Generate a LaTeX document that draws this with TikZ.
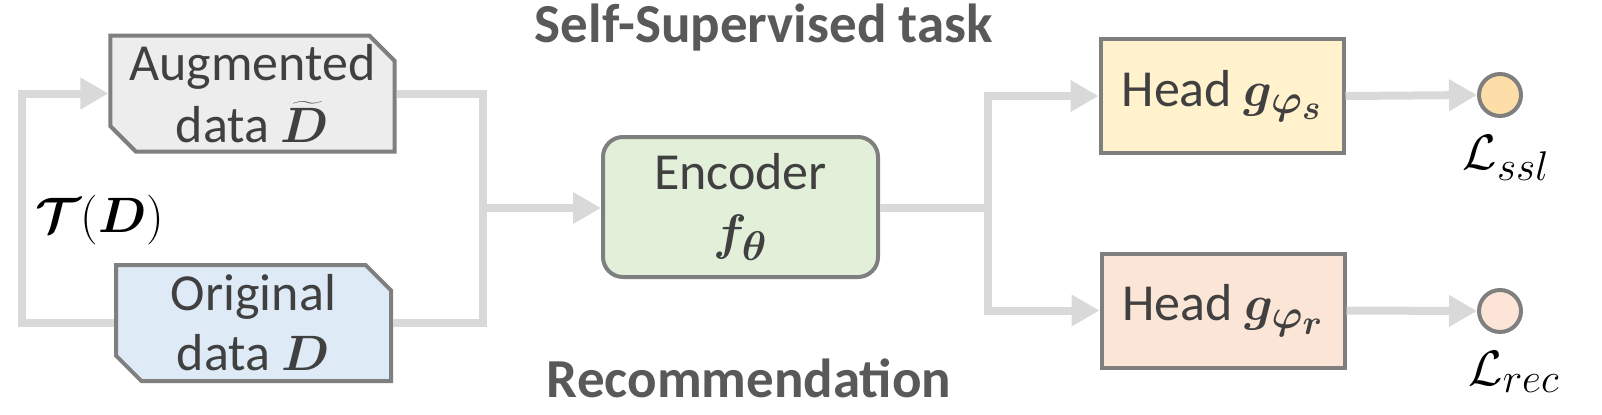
\documentclass[tikz,border=0pt]{standalone}
\usepackage{bm}
\usepackage{fontspec}
\setmainfont{Carlito}
\usepackage{tikz}
\usetikzlibrary{
  arrows.meta,
  shapes.misc,
}
\DeclareMathSizes{29}{29}{21}{16}
\definecolor{boxline}{RGB}{127, 127, 127}
\definecolor{flowgray}{RGB}{217, 217, 217}
\definecolor{darktext}{RGB}{64, 64, 64}
\definecolor{titletext}{RGB}{89, 89, 89}
\definecolor{augfill}{RGB}{237, 237, 237}
\definecolor{origfill}{RGB}{222, 235, 247}
\definecolor{encfill}{RGB}{226, 240, 217}
\definecolor{sslfill}{RGB}{255, 242, 204}
\definecolor{recfill}{RGB}{251, 229, 214}
\definecolor{sslloss}{RGB}{253, 222, 168}
\definecolor{recloss}{RGB}{252, 228, 214}
\newcommand{\bigtext}{\fontsize{26}{27}\selectfont}
\newcommand{\titletext}{\fontsize{27.5}{29}\selectfont\bfseries}
\newcommand{\bigmath}[1]{{\fontsize{29}{30}\selectfont$#1$}}
\tikzstyle{flow} = [
  line width=4pt,
  flowgray,
]
\tikzstyle{arrow} = [
  flow,
  -{Triangle[length=14pt,width=15pt]},
]
\tikzstyle{databox} = [
  chamfered rectangle,
  chamfered rectangle corners={north east, south west},
  chamfered rectangle xsep=9.5pt,
  draw=boxline,
  line width=2pt,
  minimum width=137.5pt,
  minimum height=58pt,
  inner sep=0pt,
  align=center,
  text=darktext,
  font=\bigtext,
]
\tikzstyle{headbox} = [
  rectangle,
  draw=boxline,
  line width=2pt,
  minimum width=121.5pt,
  minimum height=57pt,
  inner sep=0pt,
  text=darktext,
  font=\bigtext,
]
\tikzstyle{loss} = [
  circle,
  draw=boxline,
  line width=2pt,
  minimum size=21pt,
  inner sep=0pt,
]

\begin{document}
\begin{tikzpicture}[x=0.5pt, y=-0.5pt]

        \useasboundingbox (0,0) rectangle (1602,414);

        \node [font=\titletext, text=titletext] (ssltitle) at (764, 28) {Self-Supervised task};

        \node [font=\titletext, text=titletext] (rectitle) at (749, 378) {Recommendation};

        \node [databox, fill=augfill] (aug) at (252.5, 93.5)
              {Augmented\\[4pt] data \bigmath{\widetilde{\bm{D}}}};

        \node [databox, fill=origfill] (orig) at (253.5, 323)
              {Original\\[3pt] data \bigmath{\bm{D}}};

        \node (transform) at (100, 220) {\bigmath{\bm{\mathcal{T}}(\bm{D})}};

        \node [rectangle, rounded corners=10pt, draw=boxline, line width=2pt,
               fill=encfill, minimum width=137.5pt, minimum height=70pt,
               inner sep=0pt, align=center, text=darktext, font=\bigtext]
              (enc) at (740.5, 207) {Encoder\\[3pt] \bigmath{\bm{f_\theta}}};

        \node [headbox, fill=sslfill] (heads) at (1222, 96) {Head \bigmath{\bm{g_{\varphi_s}}}};

        \node [headbox, fill=recfill] (headr) at (1223, 310.5) {Head \bigmath{\bm{g_{\varphi_r}}}};

        \node [loss, fill=sslloss] (losss) at (1500, 95) {};

        \node [loss, fill=recloss] (lossr) at (1500, 311) {};

        \node (labels) at (1506, 158) {\bigmath{\mathcal{L}_{ssl}}};

        \node (labelr) at (1514, 372) {\bigmath{\mathcal{L}_{rec}}};

        \coordinate (loop) at (22, 323);
        \coordinate (merge) at (483, 208);
        \coordinate (split) at (988, 208);

        \draw [arrow] (orig.west) -- (loop) |- (aug.west);

        \draw [flow] (aug.east) -| (merge);

        \draw [flow] (orig.east) -| (merge);

        \draw [arrow] (merge) -- (enc.west |- merge);

        \draw [flow] (enc.east |- split) -- (split);

        \draw [arrow] (split) |- (heads.west);

        \draw [arrow] (split) |- (headr.west);

        \draw [arrow] (heads.east) -- (losss.west);

        \draw [arrow] (headr.east) -- (lossr.west);
      \end{tikzpicture}
\end{document}
